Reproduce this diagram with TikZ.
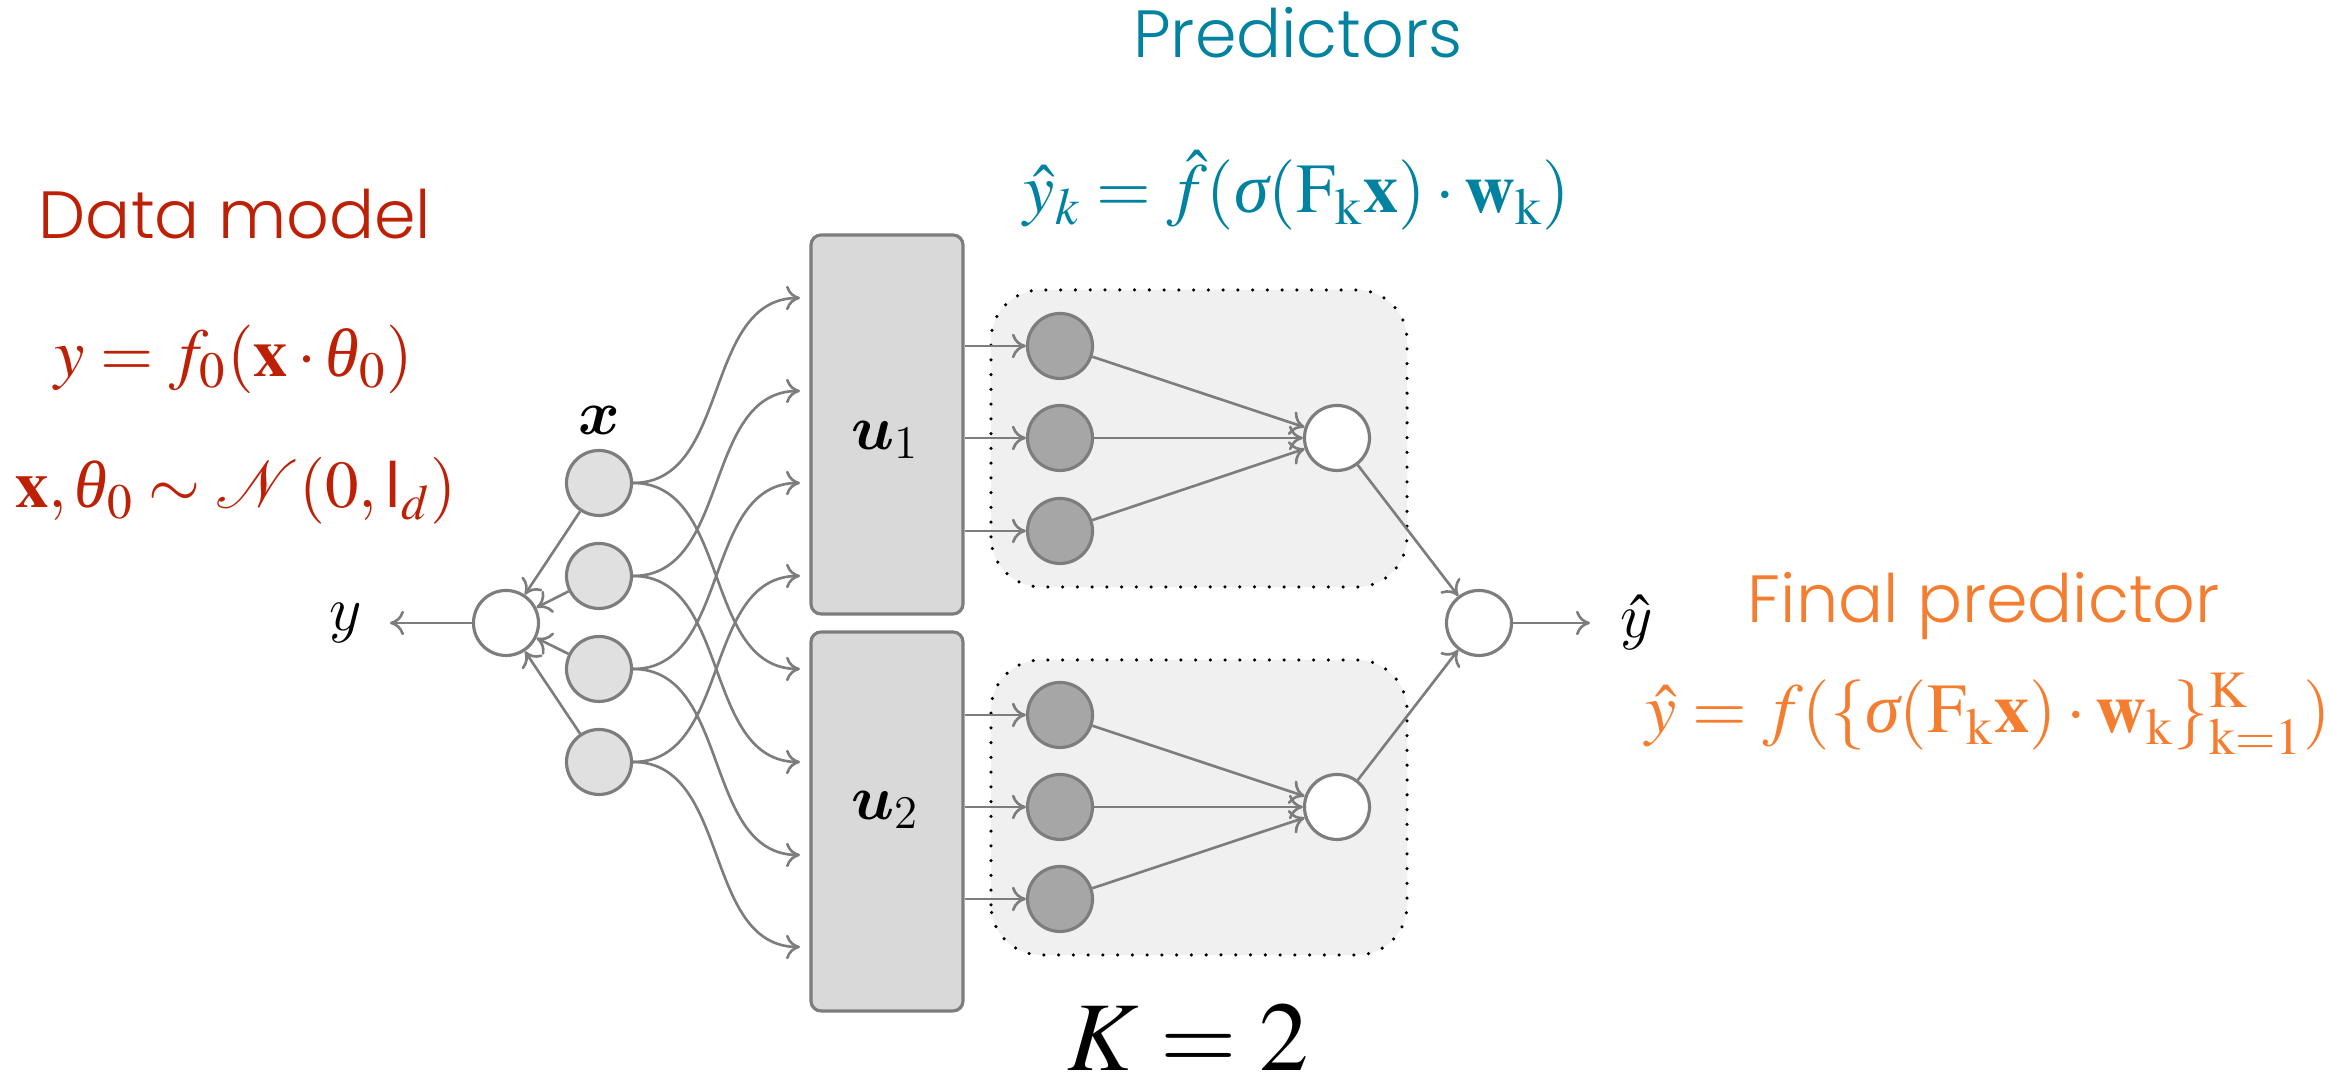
\documentclass[tikz,border=0pt]{standalone}
\usepackage{fix-cm}
\usepackage{mathptmx}
\usepackage[no-math]{fontspec}
\newfontfamily\headfont{Poppins}[UprightFont=* Light]
\newfontfamily\tmsfont{Liberation Serif}
\usetikzlibrary{arrows.meta}

\DeclareMathAlphabet{\cmbi}{OML}{cmm}{b}{it}
\DeclareMathAlphabet{\cmit}{OML}{cmm}{m}{it}
\DeclareMathAlphabet{\cmup}{OT1}{cmr}{m}{n}
\newcommand{\gsigma}{\mbox{\tmsfont\itshape σ}}
\newcommand{\gtheta}{\mbox{\tmsfont\itshape θ}}

\definecolor{modelred}{RGB}{190,32,6}
\definecolor{predteal}{RGB}{0,130,160}
\definecolor{finalorange}{RGB}{245,125,48}
\definecolor{edgegray}{RGB}{125,125,125}
\definecolor{inputgray}{RGB}{224,224,224}
\definecolor{hiddengray}{RGB}{166,166,166}
\definecolor{boxgray}{RGB}{217,217,217}
\definecolor{panelgray}{RGB}{240,240,240}

\tikzset{
    wire/.style={draw=edgegray, line width=0.75pt, -{To[length=4pt,width=7pt]}},
    innode/.style={circle, draw=edgegray, fill=inputgray, line width=0.9pt, minimum size=6.5mm, inner sep=0pt},
    hidnode/.style={innode, fill=hiddengray},
    sumnode/.style={innode, fill=white},
    ubox/.style={draw=edgegray, fill=boxgray, line width=0.9pt, rounded corners=1mm, minimum width=15.2mm, minimum height=37.9mm},
    panel/.style={draw=black, fill=panelgray, line width=1pt, dash pattern=on 0pt off 4.2pt, line cap=round, rounded corners=5mm},
    head/.style={font=\headfont\fontsize{19pt}{22pt}\selectfont, anchor=base, inner sep=0pt},
    eqn/.style={font=\fontsize{20pt}{24pt}\selectfont, anchor=base, inner sep=0pt},
    lbl/.style={font=\fontsize{18pt}{21pt}\selectfont, inner sep=1pt}
}

\begin{document}
\begin{tikzpicture}
        \useasboundingbox (0,0) rectangle (23.31,10.78);

        \draw[panel] (9.91,4.91) rectangle (14.07,7.88);
        \draw[panel] (9.91,1.23) rectangle (14.07,4.18);

        \node[innode] (x1) at (5.99,5.95) {};
        \node[innode] (x2) at (5.99,5.02) {};
        \node[innode] (x3) at (5.99,4.09) {};
        \node[innode] (x4) at (5.99,3.16) {};
        \node[lbl] (xlab) at (5.99,6.58) {$\cmbi{x}$};

        \node[sumnode] (y) at (5.06,4.55) {};
        \node[lbl] (ylab) at (3.46,4.55) {$\cmit{y}$};
        \coordinate (ytip) at (3.90,4.55);

        \node[ubox] (u1) at (8.87,6.535) {};
        \node[ubox] (u2) at (8.87,2.565) {};
        \node[lbl] (u1lab) at (8.85,6.38) {$\cmbi{u}_{\cmup{1}}$};
        \node[lbl] (u2lab) at (8.85,2.68) {$\cmbi{u}_{\cmup{2}}$};

        \coordinate (t1) at (8.00,7.80);
        \coordinate (t2) at (8.00,6.87);
        \coordinate (t3) at (8.00,5.95);
        \coordinate (t4) at (8.00,5.02);
        \coordinate (t5) at (8.00,4.09);
        \coordinate (t6) at (8.00,3.16);
        \coordinate (t7) at (8.00,2.23);
        \coordinate (t8) at (8.00,1.31);

        \node[hidnode] (h11) at (10.60,7.32) {};
        \node[hidnode] (h12) at (10.60,6.40) {};
        \node[hidnode] (h13) at (10.60,5.47) {};
        \node[hidnode] (h21) at (10.60,3.63) {};
        \node[hidnode] (h22) at (10.60,2.71) {};
        \node[hidnode] (h23) at (10.60,1.79) {};

        \node[sumnode] (s1) at (13.37,6.40) {};
        \node[sumnode] (s2) at (13.37,2.71) {};
        \node[sumnode] (f) at (14.79,4.55) {};
        \node[lbl] (yhatlab) at (16.37,4.55) {$\hat{\cmit{y}}$};
        \coordinate (yhtip) at (15.90,4.55);

        \draw[wire] (x1) -- (y);
        \draw[wire] (x2) -- (y);
        \draw[wire] (x3) -- (y);
        \draw[wire] (x4) -- (y);
        \draw[wire] (y) -- (ytip);

        \draw[wire] (x1.east) to[out=0,in=180] (t1);
        \draw[wire] (x2.east) to[out=0,in=180] (t2);
        \draw[wire] (x3.east) to[out=0,in=180] (t3);
        \draw[wire] (x4.east) to[out=0,in=180] (t4);
        \draw[wire] (x1.east) to[out=0,in=180] (t5);
        \draw[wire] (x2.east) to[out=0,in=180] (t6);
        \draw[wire] (x3.east) to[out=0,in=180] (t7);
        \draw[wire] (x4.east) to[out=0,in=180] (t8);

        \draw[wire] (u1.east |- h11) -- (h11);
        \draw[wire] (u1.east |- h12) -- (h12);
        \draw[wire] (u1.east |- h13) -- (h13);
        \draw[wire] (u2.east |- h21) -- (h21);
        \draw[wire] (u2.east |- h22) -- (h22);
        \draw[wire] (u2.east |- h23) -- (h23);

        \draw[wire] (h11) -- (s1);
        \draw[wire] (h12) -- (s1);
        \draw[wire] (h13) -- (s1);
        \draw[wire] (h21) -- (s2);
        \draw[wire] (h22) -- (s2);
        \draw[wire] (h23) -- (s2);

        \draw[wire] (s1) -- (f);
        \draw[wire] (s2) -- (f);
        \draw[wire] (f) -- (yhtip);

        \node[head, text=predteal] (predtitle) at (12.98,10.20) {Predictors};
        \node[eqn, text=predteal] (predeq) at (12.97,8.65) {$\hat{y}_k = \hat{f}(\gsigma(\mathrm{F}_\mathrm{k}\mathbf{x})\cdot\mathbf{w}_\mathrm{k})$};

        \node[head, text=modelred] (modeltitle) at (2.35,8.39) {Data model};
        \node[eqn, text=modelred, font=\fontsize{19.5pt}{23pt}\selectfont] (modeleq) at (2.34,7.01) {$y = f_0(\mathbf{x}\cdot\gtheta_0)$};
        \node[eqn, text=modelred, font=\fontsize{19pt}{23pt}\selectfont] (modeldist) at (2.36,5.70) {$\mathbf{x},\gtheta_0 \sim \mathcal{N}(0,\mathsf{I}_d)$};

        \node[head, text=finalorange] (finaltitle) at (19.84,4.55) {Final predictor};
        \node[eqn, text=finalorange] (finaleq) at (19.88,3.45) {$\hat{y} = f(\{\gsigma(\mathrm{F}_\mathrm{k}\mathbf{x})\cdot\mathbf{w}_\mathrm{k}\}_{\mathrm{k=1}}^{\mathrm{K}})$};

        \node[anchor=base, inner sep=0pt, font=\fontsize{28pt}{32pt}\selectfont] (kcount) at (11.88,0.07) {$K = 2$};
    \end{tikzpicture}
\end{document}
